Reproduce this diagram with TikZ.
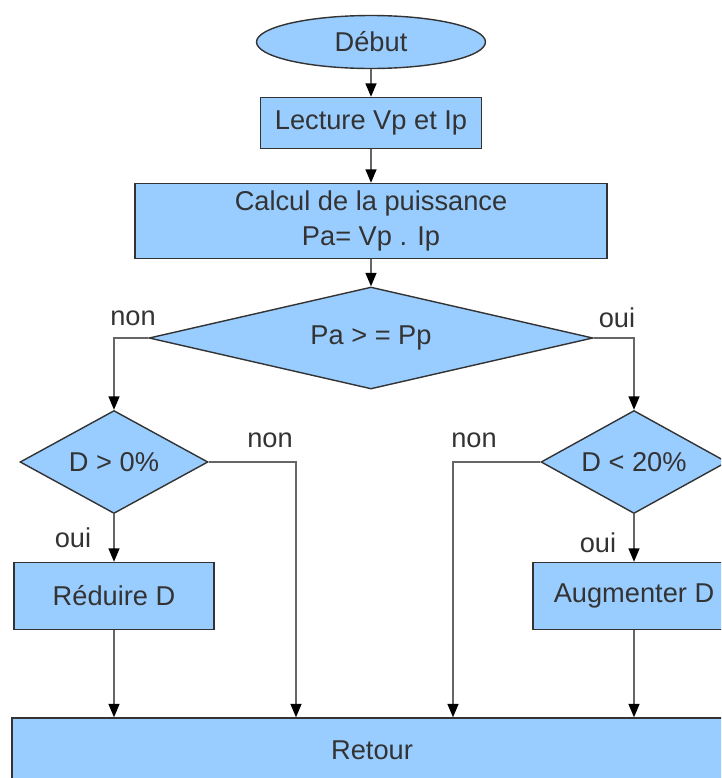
\documentclass[tikz,border=0pt]{standalone}
\usepackage{fontspec}
\setmainfont{Liberation Sans}
\usetikzlibrary{shapes.geometric,arrows.meta}
\definecolor{bleu}{HTML}{99CCFF}
\definecolor{gristexte}{HTML}{333333}

\begin{document}
\begin{tikzpicture}[x=0.02cm,y=-0.02cm,
  bloc/.style={draw=gristexte,fill=bleu,line width=0.8pt,text=gristexte,
    font=\fontsize{15.5}{20}\selectfont,inner sep=0pt,align=center},
  boite/.style={bloc,rectangle},
  losange/.style={bloc,diamond},
  lien/.style={draw=black!60,line width=0.8pt},
  fleche/.style={lien,-{Triangle[length=0.27cm,width=0.22cm,color=black]}},
  etiq/.style={text=gristexte,font=\fontsize{15.5}{19}\selectfont}]
\useasboundingbox (0,0) rectangle (721,778);
\clip (0,0) rectangle (721,778);

\node[bloc,ellipse,minimum width=4.58cm,minimum height=1.06cm] (debut) at (371,42) {Début};
\node[boite,minimum width=4.42cm,minimum height=1.02cm] (lecture) at (371,123) {Lecture Vp et Ip};
\node[boite,minimum width=9.44cm,minimum height=1.5cm] (calcul) at (371,221) {Calcul de la puissance\\Pa= Vp . Ip};
\node[losange,aspect=4.35,minimum width=8.88cm,minimum height=2.04cm] (test) at (371,338) {Pa > = Pp};

\node[losange,aspect=1.83,minimum width=3.76cm,minimum height=2.06cm] (dmin) at (114,462) {D > 0\%};
\node[losange,aspect=1.8,minimum width=3.72cm,minimum height=2.06cm] (dmax) at (634,462) {D < 20\%};

\node[boite,minimum width=4cm,minimum height=1.34cm] (reduire) at (114,596) {Réduire D};
\node[boite,minimum width=4.04cm,minimum height=1.34cm] (augmenter) at (634,596) {Augmenter D};

\node[boite,minimum width=14.4cm,minimum height=1.28cm] (retour) at (372,750) {Retour};

% etiquettes
\node[etiq] (non1) at (133,318) {non};
\node[etiq] (oui1) at (617,318) {oui};
\node[etiq] (non2) at (270,440) {non};
\node[etiq] (oui2) at (73,538) {oui};
\node[etiq] (non3) at (474,440) {non};
\node[etiq] (oui3) at (598,543) {oui};

\coordinate (gauche) at (296,462);
\coordinate (droite) at (453,462);

% liaisons
\draw[fleche] (debut) -- (lecture);
\draw[fleche] (lecture) -- (calcul);
\draw[fleche] (calcul.south) -- (test.north);
\draw[fleche] (test.west) -| (dmin.north);
\draw[fleche] (test.east) -| (dmax.north);

\draw[fleche] (dmin.south) -- (reduire.north);
\draw[fleche] (reduire.south) -- (reduire.south |- retour.north);
\draw[fleche] (dmin.east) -- (gauche) -- (gauche |- retour.north);

\draw[fleche] (dmax.south) -- (augmenter.north);
\draw[fleche] (augmenter.south) -- (augmenter.south |- retour.north);
\draw[fleche] (dmax.west) -- (droite) -- (droite |- retour.north);
\end{tikzpicture}
\end{document}
